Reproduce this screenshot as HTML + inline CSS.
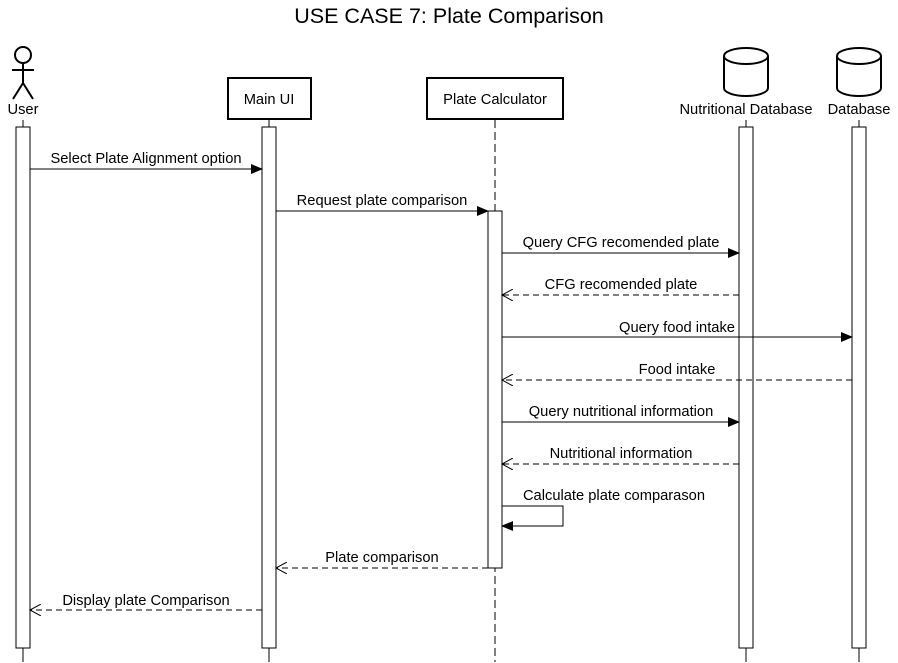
<!DOCTYPE html>
<html><head><style>body{margin:0;background:#fff}svg{display:block}text{font-family:"Liberation Sans",sans-serif;font-size:14.7px;fill:#000}</style></head>
<body>
<svg width="898" height="663" viewBox="0 0 898 663" xmlns="http://www.w3.org/2000/svg">
<defs>
<marker id="f" markerWidth="12" markerHeight="10" refX="11" refY="5" orient="auto" markerUnits="userSpaceOnUse"><path d="M0,0 L12,5 L0,10 Z" fill="#000"/></marker>
<marker id="o" markerWidth="13" markerHeight="12" refX="11" refY="6" orient="auto" markerUnits="userSpaceOnUse"><path d="M0,0 L11,6 L0,12" fill="none" stroke="#000" stroke-width="1"/></marker>
</defs>
<text x="449" y="23" text-anchor="middle" style="font-size:21.5px">USE CASE 7: Plate Comparison</text>
<g stroke="#000" stroke-width="2" fill="none">
<circle cx="23" cy="55" r="8"/>
<line x1="23" y1="63" x2="23" y2="83"/><line x1="12" y1="70" x2="34" y2="70"/>
<line x1="23" y1="83" x2="13" y2="99"/><line x1="23" y1="83" x2="33" y2="99"/>
<rect x="228" y="78" width="83" height="41"/>
<rect x="427" y="78" width="136" height="41"/>
<path d="M724,56 v32 a22,8 0 0 0 44,0 v-32 a22,8 0 0 0 -44,0 a22,8 0 0 0 44,0"/>
<path d="M837,56 v32 a22,8 0 0 0 44,0 v-32 a22,8 0 0 0 -44,0 a22,8 0 0 0 44,0"/>
</g>
<text x="23" y="114" text-anchor="middle">User</text>
<text x="269" y="104" text-anchor="middle">Main UI</text>
<text x="495" y="104" text-anchor="middle">Plate Calculator</text>
<text x="746" y="114" text-anchor="middle">Nutritional Database</text>
<text x="859" y="114" text-anchor="middle">Database</text>
<g stroke="#000" stroke-width="1" fill="none">
<line x1="23" y1="120" x2="23" y2="662"/>
<line x1="269" y1="120" x2="269" y2="662"/>
<line x1="495" y1="120" x2="495" y2="662" stroke-dasharray="8,4"/>
<line x1="746" y1="120" x2="746" y2="662"/>
<line x1="859" y1="120" x2="859" y2="662"/>
</g>
<g stroke="#000" stroke-width="1" fill="#fff">
<rect x="16" y="127" width="14" height="521"/>
<rect x="262" y="127" width="14" height="521"/>
<rect x="488" y="211" width="14" height="357"/>
<rect x="739" y="127" width="14" height="521"/>
<rect x="852" y="127" width="14" height="521"/>
</g>
<g stroke="#000" stroke-width="1" fill="none">
<line x1="30" y1="169" x2="262" y2="169" marker-end="url(#f)"/>
<line x1="276" y1="211" x2="488" y2="211" marker-end="url(#f)"/>
<line x1="502" y1="253" x2="739" y2="253" marker-end="url(#f)"/>
<line x1="739" y1="295" x2="502" y2="295" stroke-dasharray="6,4" marker-end="url(#o)"/>
<line x1="502" y1="337" x2="852" y2="337" marker-end="url(#f)"/>
<line x1="852" y1="380" x2="502" y2="380" stroke-dasharray="6,4" marker-end="url(#o)"/>
<line x1="502" y1="422" x2="739" y2="422" marker-end="url(#f)"/>
<line x1="739" y1="464" x2="502" y2="464" stroke-dasharray="6,4" marker-end="url(#o)"/>
<path d="M502,506 H563 V526 H502" marker-end="url(#f)"/>
<line x1="488" y1="568" x2="276" y2="568" stroke-dasharray="6,4" marker-end="url(#o)"/>
<line x1="262" y1="610" x2="30" y2="610" stroke-dasharray="6,4" marker-end="url(#o)"/>
</g>
<g>
<text x="146" y="163" text-anchor="middle">Select Plate Alignment option</text>
<text x="382" y="205" text-anchor="middle">Request plate comparison</text>
<text x="621" y="247" text-anchor="middle">Query CFG recomended plate</text>
<text x="621" y="289" text-anchor="middle">CFG recomended plate</text>
<text x="677" y="332" text-anchor="middle">Query food intake</text>
<text x="677" y="374" text-anchor="middle">Food intake</text>
<text x="621" y="416" text-anchor="middle">Query nutritional information</text>
<text x="621" y="458" text-anchor="middle">Nutritional information</text>
<text x="614" y="500" text-anchor="middle">Calculate plate comparason</text>
<text x="382" y="562" text-anchor="middle">Plate comparison</text>
<text x="146" y="605" text-anchor="middle">Display plate Comparison</text>
</g>
</svg>
</body></html>
